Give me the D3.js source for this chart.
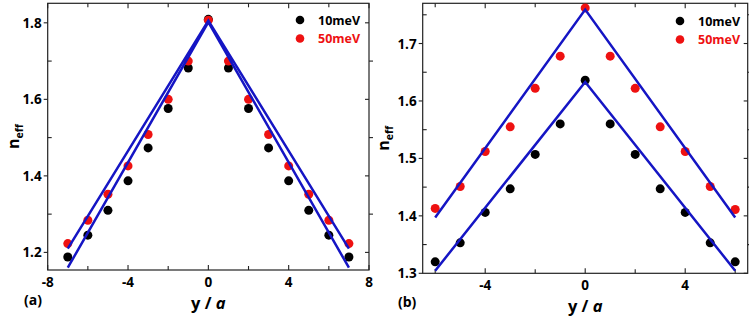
<!DOCTYPE html>
<html><head><meta charset="utf-8">
<script src="https://cdn.jsdelivr.net/npm/d3@7"></script>
<style>body{margin:0;background:#fff}svg{display:block}text{font-family:"Open Sans",sans-serif;font-weight:700}</style>
</head><body><svg id="c" width="749" height="320"></svg>
<script>
// Panel (a)
const xA = [-7,-6,-5,-4,-3,-2,-1,0,1,2,3,4,5,6,7];
const a10 = [1.188,1.245,1.310,1.387,1.473,1.576,1.682,1.809,1.682,1.576,1.473,1.387,1.310,1.245,1.188];
const a50 = [1.223,1.284,1.352,1.426,1.508,1.600,1.700,1.807,1.700,1.600,1.508,1.426,1.352,1.284,1.223];
const fitA10 = [[-7,1.160],[0,1.802],[7,1.160]];
const fitA50 = [[-7,1.210],[0,1.806],[7,1.210]];
const xTicksA = [-8,-4,0,4,8], xMinorA = [-6,-2,2,6];
const yTicksA = [1.2,1.4,1.6,1.8], yMinorA = [1.3,1.5,1.7];
// Panel (b)
const xB = [-6,-5,-4,-3,-2,-1,0,1,2,3,4,5,6];
const b10 = [1.320,1.353,1.406,1.447,1.507,1.560,1.636,1.560,1.507,1.447,1.406,1.353,1.320];
const b50 = [1.413,1.451,1.512,1.555,1.622,1.678,1.762,1.678,1.622,1.555,1.512,1.451,1.411];
const fitB10 = [[-6,1.3045],[0,1.633],[6,1.3045]];
const fitB50 = [[-6,1.397],[0,1.759],[6,1.397]];
const xTicksB = [-4,0,4], xMinorB = [-6,-2,2,6];
const yTicksB = [1.3,1.4,1.5,1.6,1.7], yMinorB = [1.35,1.45,1.55,1.65,1.75];
const seriesNames = ["10meV","50meV"];
const colors = {"10meV":"#000000","50meV":"#ee1111"};
const fitColor = "#1515c4";

const svg = d3.select("#c");

function panel(o){
  const g = svg.append("g");
  const x = d3.scaleLinear().domain(o.xd).range([o.l,o.r]);
  const y = d3.scaleLinear().domain(o.yd).range([o.b,o.t]);
  g.append("rect").attr("x",o.l).attr("y",o.t).attr("width",o.r-o.l).attr("height",o.b-o.t)
    .attr("fill","none").attr("stroke","#222").attr("stroke-width",1.2);
  const tk = g.append("g").attr("stroke","#222").attr("stroke-width",1.1);
  o.xt.concat(o.xm).forEach(v=>{
    const len = o.xt.includes(v)?5:4;
    tk.append("line").attr("x1",x(v)).attr("x2",x(v)).attr("y1",o.b).attr("y2",o.b-len);
    tk.append("line").attr("x1",x(v)).attr("x2",x(v)).attr("y1",o.t).attr("y2",o.t+len);
  });
  o.yt.forEach(v=>{
    tk.append("line").attr("x1",o.l-4).attr("x2",o.l).attr("y1",y(v)).attr("y2",y(v));
    tk.append("line").attr("x1",o.r-4).attr("x2",o.r).attr("y1",y(v)).attr("y2",y(v));
  });
  o.ym.forEach(v=>{
    tk.append("line").attr("x1",o.l).attr("x2",o.l+4).attr("y1",y(v)).attr("y2",y(v));
    tk.append("line").attr("x1",o.r).attr("x2",o.r+4).attr("y1",y(v)).attr("y2",y(v));
  });
  o.xt.forEach(v=>{
    g.append("text").attr("x",x(v)).attr("y",o.b+17).attr("text-anchor","middle")
      .attr("font-size",13.5).text(v);
  });
  o.yt.forEach(v=>{
    g.append("text").attr("x",o.l-6).attr("y",y(v)+5).attr("text-anchor","end")
      .attr("font-size",13.5).text(d3.format(".1f")(v));
  });
  o.series.forEach(s=>{
    g.append("g").selectAll("circle").data(s.vals).join("circle")
      .attr("cx",(d,i)=>x(o.xs[i])).attr("cy",d=>y(d)).attr("r",4.5).attr("fill",colors[s.name]);
  });
  const line = d3.line().x(d=>x(d[0])).y(d=>y(d[1]));
  o.fits.forEach(f=>{
    g.append("path").attr("d",line(f)).attr("fill","none").attr("stroke",fitColor).attr("stroke-width",2.5);
  });
  seriesNames.forEach((n,i)=>{
    g.append("circle").attr("cx",o.lgx).attr("cy",o.lgy+i*18.5).attr("r",4.3).attr("fill",colors[n]);
    g.append("text").attr("x",o.lgx+18).attr("y",o.lgy+i*18.5+4.5).attr("font-size",12.5)
      .attr("fill",colors[n]).text(n);
  });
  const yl = g.append("text").attr("transform",`translate(${o.ylx},${(o.t+o.b)/2}) rotate(-90)`)
    .attr("text-anchor","middle").attr("font-size",16);
  yl.append("tspan").text("n");
  yl.append("tspan").attr("font-size",10.5).attr("dy",4).text("eff");
  const xl = g.append("text").attr("x",(o.l+o.r)/2).attr("y",o.xly).attr("text-anchor","middle").attr("font-size",16.5);
  xl.append("tspan").text("y / ");
  xl.append("tspan").attr("font-style","italic").text("a");
  g.append("text").attr("x",o.plx).attr("y",o.ply).attr("font-size",14).text(o.pl);
}

panel({xd:[-8,8], yd:[1.154,1.851], l:47.7, r:369, t:3.3, b:270,
  xt:xTicksA, xm:xMinorA, yt:yTicksA, ym:yMinorA, xs:xA,
  series:[{name:"10meV",vals:a10},{name:"50meV",vals:a50}],
  fits:[fitA10,fitA50], lgx:300, lgy:20, ylx:19, xly:309, plx:24, ply:305, pl:"(a)"});

panel({xd:[-6.5,6.5], yd:[1.3,1.77], l:422.7, r:747.7, t:3.3, b:273.3,
  xt:xTicksB, xm:xMinorB, yt:yTicksB, ym:yMinorB, xs:xB,
  series:[{name:"10meV",vals:b10},{name:"50meV",vals:b50}],
  fits:[fitB10,fitB50], lgx:680, lgy:21, ylx:389, xly:312, plx:398, ply:307, pl:"(b)"});
</script></body></html>
